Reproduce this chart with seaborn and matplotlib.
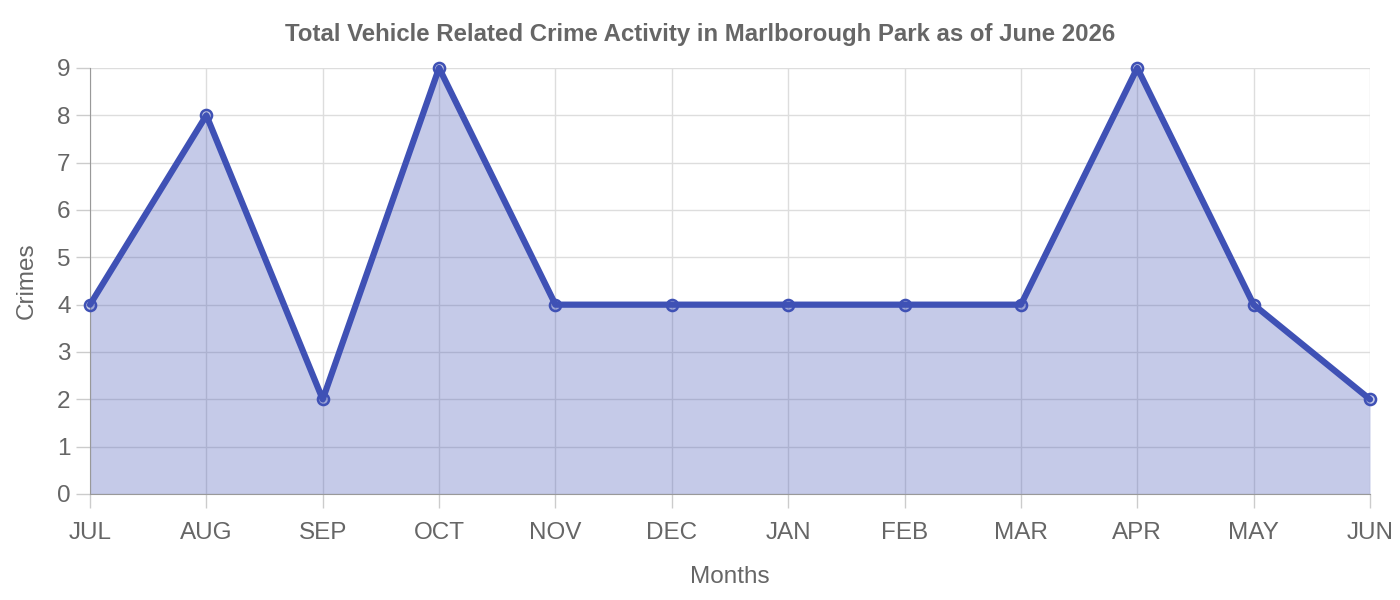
import matplotlib
matplotlib.use("Agg")
import matplotlib.pyplot as plt
import seaborn as sns
import pandas as pd

months = ["JUL","AUG","SEP","OCT","NOV","DEC","JAN","FEB","MAR","APR","MAY","JUN"]
crimes = [4, 8, 2, 9, 4, 4, 4, 4, 4, 9, 4, 2]

sns.set_style("white")
plt.rcParams['font.family'] = ['Liberation Sans', 'DejaVu Sans']

df = pd.DataFrame({"x": range(len(months)), "Crimes": crimes})
fig = plt.figure(figsize=(14, 6), dpi=100)
ax = fig.add_axes([90/1400, 106/600, 1280/1400, 426/600])

ax.fill_between(df["x"], df["Crimes"], 0, color="#3f51b5", alpha=0.3, linewidth=0, zorder=2)
sns.lineplot(data=df, x="x", y="Crimes", ax=ax, color="#3f51b5", linewidth=4.5, zorder=3,
             marker="o", markersize=8, markerfacecolor=(0.247, 0.318, 0.71, 0.3),
             markeredgecolor="#3f51b5", markeredgewidth=1.8, clip_on=False)

ax.set_xlim(0, len(months) - 1)
ax.set_ylim(0, 9)
ax.set_xticks(range(len(months)))
ax.set_xticklabels(months)
ax.set_yticks(range(10))
ax.grid(True, color="#dddddd", linewidth=1, zorder=0)
for s in ["top", "right"]:
    ax.spines[s].set_visible(False)
for s in ["left", "bottom"]:
    ax.spines[s].set_color("#999999")
ax.tick_params(axis="both", bottom=True, left=True, length=10, width=1, color="#cccccc",
               labelsize=17.5, labelcolor="#666666")
ax.tick_params(axis="x", pad=10)
ax.tick_params(axis="y", pad=4)
ax.set_xlabel("Months", fontsize=17.5, color="#666666", labelpad=16)
ax.set_ylabel("Crimes", fontsize=17.5, color="#666666", labelpad=14)
fig.suptitle("Total Vehicle Related Crime Activity in Marlborough Park as of June 2026",
             x=700/1400, y=1-34/600, va="center", fontsize=17.3, fontweight="bold", color="#666666")
fig.savefig("out.png", dpi=100)
